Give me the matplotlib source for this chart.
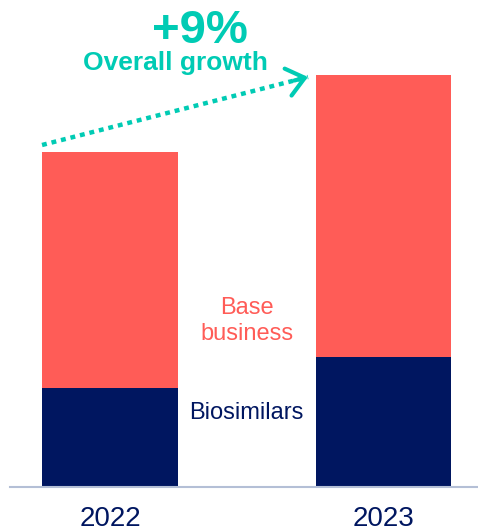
import matplotlib
matplotlib.use("Agg")
import matplotlib.pyplot as plt

plt.rcParams['font.family'] = ['Liberation Sans', 'DejaVu Sans']

years = ["2022", "2023"]
biosimilars = [99, 130]
base_business = [236, 282]
growth_label = "+9%"
growth_caption = "Overall growth"

NAVY = "#001660"
CORAL = "#ff5c57"
TEAL = "#00cbb4"
AXIS = "#b4bfd6"

fig = plt.figure(figsize=(4.78, 5.32), dpi=100)
ax = fig.add_axes([10 / 478, 45 / 532, 468 / 478, 487 / 532])

x = [0, 1]
width = 0.497
ax.bar(x, biosimilars, width=width, color=NAVY, zorder=2)
ax.bar(x, base_business, width=width, bottom=biosimilars, color=CORAL, zorder=2)

ax.set_xlim(-0.3656, 1.3455)
ax.set_ylim(0, 487)

for s in ["top", "right", "left"]:
    ax.spines[s].set_visible(False)
ax.spines["bottom"].set_color(AXIS)
ax.spines["bottom"].set_linewidth(1.5)
ax.set_yticks([])
ax.set_xticks(x)
ax.set_xticklabels(years, fontsize=20, color=NAVY)
ax.tick_params(axis="x", length=0, pad=14)

# segment labels in the gap between the bars
ax.text(0.5, 487 - 413, "Biosimilars", ha="center", va="center",
        fontsize=17, color=NAVY)
ax.text(0.5, 487 - 321, "Base\nbusiness", ha="center", va="center",
        fontsize=17, color=CORAL, linespacing=1.2)

# growth arrow from the 2022 total towards the 2023 total
totals = [b + s for b, s in zip(biosimilars, base_business)]
x0, y0 = x[0] - width / 2, totals[0] + 7
x1, y1 = 0.724, totals[1] - 2
ax.plot([x0, x1], [y0, y1], color=TEAL, lw=3.2,
        linestyle=(0, (1.1, 1.1)), dash_capstyle="butt", zorder=3)
ax.annotate("", xy=(x1, y1), xytext=(x1 - 0.05, y1 - 0.05 * 68 / 266 * 273.5),
            arrowprops=dict(arrowstyle="->,head_length=0.62,head_width=0.5",
                            color=TEAL, lw=3, mutation_scale=20,
                            shrinkA=0, shrinkB=0), zorder=3)

ax.text((200 - 110) / 273.5, 487 - 31, growth_label, ha="center", va="center",
        fontsize=34, fontweight="bold", color=TEAL)
ax.text((175 - 110) / 273.5, 487 - 63, growth_caption, ha="center", va="center",
        fontsize=19, fontweight="bold", color=TEAL)

fig.savefig("out.png", dpi=100)
